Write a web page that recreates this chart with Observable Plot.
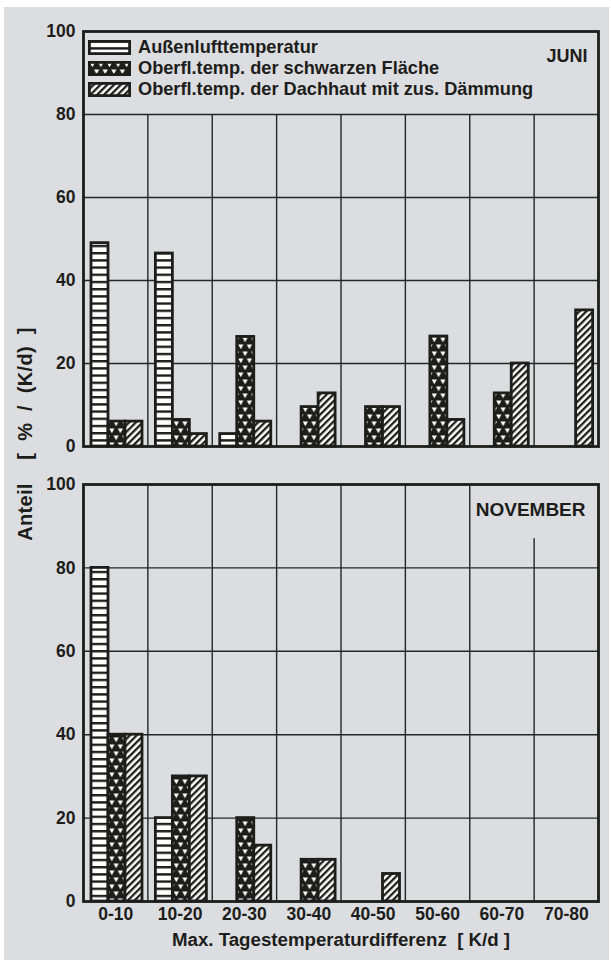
<!DOCTYPE html>
<html>
<head>
<meta charset="utf-8">
<script src="https://cdn.jsdelivr.net/npm/d3@7"></script>
<script src="https://cdn.jsdelivr.net/npm/@observablehq/plot@0.6"></script>
<style>
  body { margin: 0; background: #ffffff; }
  #wrap { position: relative; width: 611px; height: 963px; overflow: hidden; font-family: "Liberation Sans", Arial, sans-serif; font-weight: bold; color: #1d1d1b; }
  #bg { position: absolute; left: 4px; top: 7px; width: 605px; height: 953px; background: #dcdde0; }
  .panel { position: absolute; left: 0; width: 611px; }
  #legend { position: absolute; left: 88px; top: 37px; font-size: 18.2px; }
  #legend .row { display: flex; align-items: center; height: 21px; white-space: nowrap; }
  #legend .row span { margin-left: 7px; }
  #ylabel { position: absolute; left: 25px; top: 434px; transform: translate(-50%, -50%) rotate(-90deg); font-size: 20px; letter-spacing: 0.3px; word-spacing: 6px; white-space: pre; }
</style>
</head>
<body>
<svg width="0" height="0" style="position:absolute">
  <defs>
    <pattern id="p-h" patternUnits="userSpaceOnUse" width="10" height="7.2">
      <rect width="10" height="7.2" fill="#ffffff"/>
      <rect y="0" width="10" height="2.4" fill="#1d1d1b"/>
    </pattern>
    <pattern id="p-t" patternUnits="userSpaceOnUse" width="8.6" height="14">
      <rect width="8.6" height="14" fill="#1d1d1b"/>
      <path d="M1.7,1.6 L6.9,1.6 L4.3,6.2Z M-2.6,8.6 L2.6,8.6 L0,13.2Z M6,8.6 L11.2,8.6 L8.6,13.2Z" fill="#ffffff"/>
    </pattern>
    <pattern id="p-d" patternUnits="userSpaceOnUse" width="4.8" height="4.8" patternTransform="rotate(45)">
      <rect width="4.8" height="4.8" fill="#ffffff"/>
      <rect width="2.3" height="4.8" fill="#1d1d1b"/>
    </pattern>
  </defs>
</svg>
<div id="wrap">
  <div id="bg"></div>
  <div id="top" class="panel" style="top:0px"></div>
  <div id="bottom" class="panel" style="top:470px"></div>
  <div id="legend"></div>
  <div id="ylabel"></div>
</div>
<script>
// ---- data ----
const categories = ["0-10", "10-20", "20-30", "30-40", "40-50", "50-60", "60-70", "70-80"];
const seriesNames = [
  "Außenlufttemperatur",
  "Oberfl.temp. der schwarzen Fläche",
  "Oberfl.temp. der Dachhaut mit zus. Dämmung"
];
const months = ["JUNI", "NOVEMBER"];
const juniAussen  = [49, 46.5, 3, 0, 0, 0, 0, 0];
const juniSchwarz = [6, 6.4, 26.4, 9.5, 9.5, 26.5, 12.8, 0];
const juniDach    = [6, 3, 6, 12.8, 9.5, 6.4, 20, 32.8];
const novAussen   = [80, 20, 0, 0, 0, 0, 0, 0];
const novSchwarz  = [40, 30, 20, 10, 0, 0, 0, 0];
const novDach     = [40, 30, 13.4, 10, 6.6, 0, 0, 0];
const yTicks = [0, 20, 40, 60, 80, 100];
const yGrid = [20, 40, 60, 80];
const xTitle = "Max. Tagestemperaturdifferenz  [ K/d ]";
const yTitle = "Anteil  [ % / (K/d) ]";

// ---- derived ----
const ranges = categories.map(c => c.split("-").map(Number));
const centers = ranges.map(([a, b]) => (a + b) / 2);
const labelOf = new Map(centers.map((c, i) => [c, categories[i]]));
const boundaries = ranges.slice(1).map(([a]) => a);
const patterns = ["url(#p-h)", "url(#p-t)", "url(#p-d)"];
const ink = "#1d1d1b";

const W = 611, ML = 83, MR = 13;
const bandPx = (W - ML - MR) / categories.length;
const barPx = 17, offPx = 8;

function rowsFor(values) {
  return values.map((v, i) => ({cat: categories[i], lo: ranges[i][0], hi: ranges[i][1], value: v}))
               .filter(d => d.value > 0);
}

function panel({month, series, height, marginTop, marginBottom, showX, gridTop, monthDx, monthSize}) {
  const marks = [
    Plot.ruleY(yGrid, {stroke: "#262626", strokeWidth: 1.4}),
    Plot.ruleX(boundaries, {y1: 0, y2: gridTop, stroke: "#262626", strokeWidth: 1.4})
  ];
  series.forEach((vals, s) => {
    marks.push(Plot.rectY(rowsFor(vals), {
      x1: "lo", x2: "hi", y: "value",
      insetLeft: offPx + s * barPx,
      insetRight: bandPx - offPx - (s + 1) * barPx,
      fill: patterns[s], stroke: ink, strokeWidth: 2.8
    }));
  });
  marks.push(Plot.frame({stroke: ink, strokeWidth: 2.8}));
  marks.push(Plot.text([month], {text: d => d, frameAnchor: "top-right", dx: monthDx, dy: 18, fontSize: monthSize, fontWeight: "bold", fill: ink}));
  if (showX) {
    marks.push(Plot.text([xTitle], {text: d => d, frameAnchor: "bottom", lineAnchor: "middle", dy: 39, fontSize: 18.7, fontWeight: "bold", fill: ink}));
  }
  return Plot.plot({
    width: W, height, marginLeft: ML, marginRight: MR, marginTop, marginBottom,
    style: {background: "transparent", fontFamily: "'Liberation Sans', Arial, sans-serif", fontWeight: "bold", fontSize: "17.5px", color: ink},
    x: {domain: [0, 80], axis: showX ? "bottom" : null, ticks: centers, tickFormat: d => labelOf.get(d), tickSize: 0, tickPadding: 6, label: null},
    y: {domain: [0, 100], ticks: yTicks, tickSize: 0, tickPadding: 8, label: null},
    marks
  });
}

document.getElementById("top").append(panel({
  month: months[0], series: [juniAussen, juniSchwarz, juniDach],
  height: 470, marginTop: 31, marginBottom: 24, showX: false,
  gridTop: 80, monthDx: -11, monthSize: 18
}));
document.getElementById("bottom").append(panel({
  month: months[1], series: [novAussen, novSchwarz, novDach],
  height: 493, marginTop: 14, marginBottom: 62, showX: true,
  gridTop: d => d === 70 ? 87 : 100, monthDx: -13, monthSize: 19
}));

// legend
const legend = document.getElementById("legend");
seriesNames.forEach((name, s) => {
  const row = document.createElement("div");
  row.className = "row";
  row.innerHTML = `<svg width="43" height="15"><rect x="1.4" y="1.4" width="40.2" height="12.2" fill="${patterns[s]}" stroke="${ink}" stroke-width="2.8"/></svg><span></span>`;
  row.querySelector("span").textContent = name;
  legend.append(row);
});
document.getElementById("ylabel").textContent = yTitle;
</script>
</body>
</html>
